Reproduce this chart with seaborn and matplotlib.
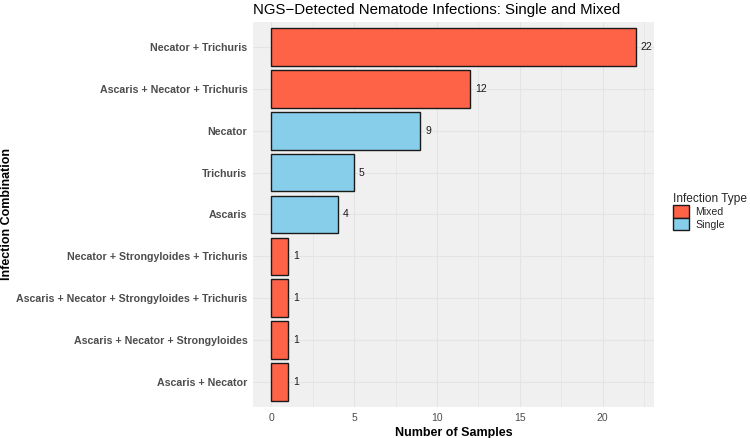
import matplotlib
matplotlib.use("Agg")
import matplotlib.pyplot as plt
import seaborn as sns
import pandas as pd
from matplotlib.patches import Patch

categories = [
    "Necator + Trichuris",
    "Ascaris + Necator + Trichuris",
    "Necator",
    "Trichuris",
    "Ascaris",
    "Necator + Strongyloides + Trichuris",
    "Ascaris + Necator + Strongyloides + Trichuris",
    "Ascaris + Necator + Strongyloides",
    "Ascaris + Necator",
]
counts = [22, 12, 9, 5, 4, 1, 1, 1, 1]
types = ["Mixed", "Mixed", "Single", "Single", "Single", "Mixed", "Mixed", "Mixed", "Mixed"]
type_levels = ["Mixed", "Single"]
palette = {"Mixed": "#FF6347", "Single": "#87CEEB"}

df = pd.DataFrame({"combo": categories, "n": counts, "type": types})

sns.set_theme(style="white")
plt.rcParams["font.family"] = ["Liberation Sans", "DejaVu Sans"]

fig = plt.figure(figsize=(7.5, 4.38), dpi=100)
ax = fig.add_axes([253/750, 1-407/438, (654-253)/750, (407-22)/438])
ax.set_facecolor("#F0F0F0")

sns.barplot(data=df, y="combo", x="n", hue="type", hue_order=type_levels,
            order=categories, palette=palette, dodge=False, width=0.9,
            edgecolor="#1a1a1a", linewidth=1.0, orient="h", ax=ax, legend=False,
            saturation=1)

for i, v in enumerate(counts):
    ax.text(v + 0.3, i, str(v), va="center", ha="left", fontsize=7.5, color="#1a1a1a")

ax.set_xlim(-1.1, 23.1)
ax.set_ylim(len(categories) - 0.4, -0.6)
ax.set_xticks([0, 5, 10, 15, 20])
ax.set_xticks([2.5, 7.5, 12.5, 17.5, 22.5], minor=True)
ax.grid(True, which="major", axis="both", color="#E4E4E4", linewidth=0.8)
ax.grid(True, which="minor", axis="x", color="#E4E4E4", linewidth=0.5)
ax.set_axisbelow(True)
for s in ax.spines.values():
    s.set_visible(False)

ax.tick_params(axis="both", length=0, pad=4)
ax.tick_params(axis="x", labelsize=7.5, labelcolor="#4D4D4D")
ax.tick_params(axis="y", labelsize=7.7, labelcolor="#4D4D4D")
for lab in ax.get_yticklabels():
    lab.set_fontweight("bold")

ax.set_xlabel("Number of Samples", fontsize=9, fontweight="bold", color="black", labelpad=3)
ax.set_ylabel("")
fig.text(7/750, 1-214/438, "Infection Combination", rotation=90, ha="center", va="center",
         fontsize=9, fontweight="bold", color="black")
ax.set_title("NGS\u2212Detected Nematode Infections: Single and Mixed", fontsize=10.8,
             loc="left", color="black", pad=6)

handles = [Patch(facecolor=palette[t], edgecolor="#1a1a1a", linewidth=1.0, label=t) for t in type_levels]
leg = fig.legend(handles=handles, title="Infection Type", loc="upper left",
                 bbox_to_anchor=(666/750, 1-186/438), frameon=False, fontsize=7.6,
                 title_fontsize=8.6, handlelength=1.45, handleheight=1.45,
                 handletextpad=0.6, labelspacing=0.0, borderaxespad=0.3)
leg._legend_box.align = "left"

fig.savefig("out.png", dpi=100)
